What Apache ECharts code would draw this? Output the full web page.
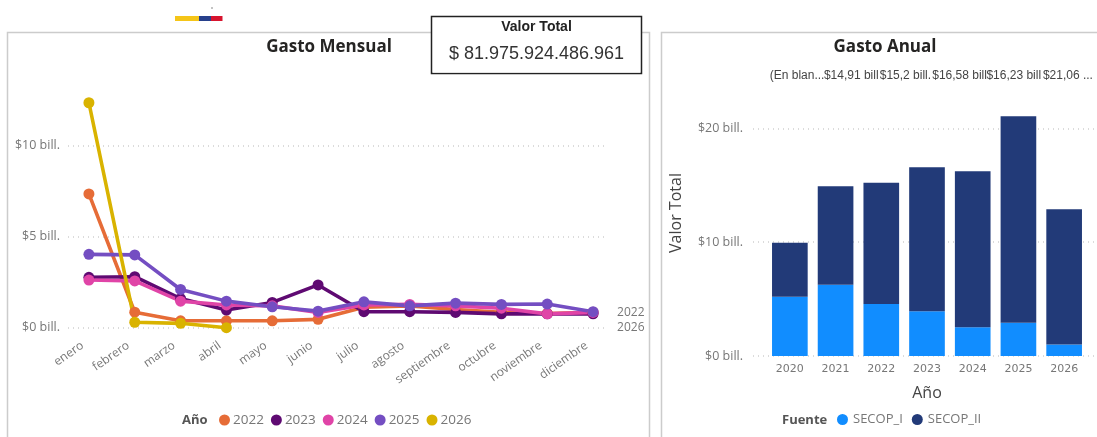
<!DOCTYPE html>
<html>
<head>
<meta charset="utf-8">
<style>html,body{margin:0;padding:0;background:#fff}#c{width:1097px;height:437px}</style>
<script src="https://cdn.jsdelivr.net/npm/echarts@6/dist/echarts.min.js"></script>
</head>
<body>
<div id="c"></div>
<script>
const months = ['enero','febrero','marzo','abril','mayo','junio','julio','agosto','septiembre','octubre','noviembre','diciembre'];
const v2022 = [7.35,0.85,0.38,0.38,0.38,0.46,1.12,1.2,1.0,0.85,0.78,0.85];
const v2023 = [2.77,2.8,1.6,0.97,1.39,2.35,0.88,0.88,0.84,0.76,0.76,0.76];
const v2024 = [2.62,2.57,1.46,1.25,1.2,0.84,1.25,1.28,1.2,1.07,0.76,0.84];
const v2025 = [4.03,4.0,2.1,1.46,1.15,0.91,1.42,1.2,1.35,1.28,1.3,0.88];
const v2026 = [12.36,0.3,0.24,0.0];
const years = ['2020','2021','2022','2023','2024','2025','2026'];
const secopI = [5.2,6.26,4.57,3.92,2.52,2.92,1.02];
const secopII = [4.75,8.65,10.63,12.66,13.71,18.14,11.86];
const topLabels = ['(En blan...','$14,91 bill','$15,2 bill.','$16,58 bill','$16,23 bill','$21,06 ...'];
const lineColors = {2022:'#E66C37',2023:'#5F0A72',2024:'#E044A7',2025:'#744EC2',2026:'#D9B300'};
const GRAY='#777';
const SANS='"Open Sans"';

function lineSeries(name,data,extra){
  return Object.assign({name:String(name),type:'line',xAxisIndex:1,yAxisIndex:1,data:data,
    symbol:'circle',symbolSize:11,showSymbol:true,
    lineStyle:{width:3.6,color:lineColors[name]},itemStyle:{color:lineColors[name]}},extra||{});
}
function endLabel(text,month,val){
  return {symbol:'circle',symbolSize:0,silent:true,
    data:[{coord:[month,val],value:text}],
    label:{show:true,position:'right',distance:24,formatter:text,color:GRAY,fontFamily:SANS,fontSize:12}};
}
const hiddenVal=(g,max)=>({type:'value',gridIndex:g,min:0,max:max,show:false});
const hiddenCat=(g,d)=>({type:'category',gridIndex:g,data:d,show:false});
const dots={type:[1,4],color:'#cfcfcf',width:1.5};

const option={
  animation:false,
  backgroundColor:'#fff',
  title:[
    {text:'Gasto Mensual',left:324,top:34,textAlign:'center',textStyle:{fontFamily:SANS,fontSize:17,fontWeight:700,color:'#252423'}},
    {text:'Gasto Anual',left:880,top:34,textAlign:'center',textStyle:{fontFamily:SANS,fontSize:17,fontWeight:700,color:'#252423'}}
  ],
  legend:[
    {left:214,top:408,itemWidth:11,itemHeight:11,itemGap:7,icon:'circle',
     data:['2022','2023','2024','2025','2026'],
     textStyle:{fontFamily:SANS,fontSize:13.5,color:GRAY,padding:[0,0,0,-2]}},
    {left:832,top:408,itemWidth:11,itemHeight:11,itemGap:9,icon:'circle',
     data:['SECOP_I','SECOP_II'],
     textStyle:{fontFamily:SANS,fontSize:13,color:GRAY,padding:[0,0,0,0]}}
  ],
  grid:[
    {left:68,width:540,top:145.7,height:182},   // left gridlines
    {left:66,width:550,top:54.7,height:273},    // left lines
    {left:753,width:344,top:128.3,height:227.7},// right gridlines
    {left:767,width:320,top:14.3,height:341.7}, // bars
    {left:770,width:325,top:83,height:10}       // row of top labels
  ],
  xAxis:[
    hiddenCat(0,months),
    {type:'category',gridIndex:1,data:months,axisLine:{show:false},axisTick:{show:false},
     axisLabel:{interval:0,rotate:35,color:GRAY,fontFamily:SANS,fontSize:12,margin:12,padding:[0,8,0,0]}},
    hiddenCat(2,years),
    {type:'category',gridIndex:3,data:years,axisLine:{show:false},axisTick:{show:false},
     name:'Año',nameLocation:'middle',nameGap:29,nameTextStyle:{fontFamily:SANS,fontSize:16,color:'#444'},
     axisLabel:{interval:0,color:GRAY,fontFamily:'"DejaVu Sans"',fontSize:11,margin:8}},
    {type:'category',gridIndex:4,position:'top',data:topLabels,axisLine:{show:false},axisTick:{show:false},
     axisLabel:{interval:0,color:'#444',fontFamily:'"Liberation Sans"',fontSize:12,margin:1}}
  ],
  yAxis:[
    {type:'value',gridIndex:0,min:0,max:10,interval:5,axisLine:{show:false},axisTick:{show:false},
     splitLine:{lineStyle:dots},
     axisLabel:{formatter:v=>'$'+v+' bill.',color:GRAY,fontFamily:SANS,fontSize:12.5,margin:8}},
    hiddenVal(1,15),
    {type:'value',gridIndex:2,min:0,max:20,interval:10,axisLine:{show:false},axisTick:{show:false},
     splitLine:{lineStyle:dots},
     axisLabel:{formatter:v=>'$'+v+' bill.',color:GRAY,fontFamily:SANS,fontSize:12.5,margin:10}},
    hiddenVal(3,30),
    hiddenVal(4,1)
  ],
  series:[
    lineSeries(2022,v2022,{markPoint:endLabel('2022','diciembre',v2022[11])}),
    lineSeries(2023,v2023),
    lineSeries(2024,v2024),
    lineSeries(2025,v2025),
    lineSeries(2026,v2026,{markPoint:endLabel('2026','diciembre',0)}),
    {name:'SECOP_I',type:'bar',stack:'t',xAxisIndex:3,yAxisIndex:3,data:secopI,barWidth:'78%',itemStyle:{color:'#118DFF'}},
    {name:'SECOP_II',type:'bar',stack:'t',xAxisIndex:3,yAxisIndex:3,data:secopII,barWidth:'78%',itemStyle:{color:'#223A78'}}
  ],
  graphic:[
    {type:'rect',z:-1,shape:{x:7.5,y:32.5,width:642,height:420},style:{fill:'#fff',stroke:'#cccccc',lineWidth:1.5}},
    {type:'rect',z:-1,shape:{x:661.5,y:32.5,width:450,height:420},style:{fill:'#fff',stroke:'#cccccc',lineWidth:1.5}},
    {type:'rect',z:50,shape:{x:175,y:16,width:24,height:5},style:{fill:'#F5C518'}},
    {type:'rect',z:50,shape:{x:199,y:16,width:12,height:5},style:{fill:'#27408B'}},
    {type:'rect',z:50,shape:{x:211,y:16,width:11.5,height:5},style:{fill:'#D7142E'}},
    {type:'rect',z:50,shape:{x:211,y:7.5,width:2,height:1},style:{fill:'#888'}},
    {type:'rect',z:100,shape:{x:431.5,y:16.5,width:210,height:57},style:{fill:'#fff',stroke:'#222',lineWidth:1.5}},
    {type:'text',z:101,style:{x:536.5,y:20,text:'Valor Total',textAlign:'center',fill:'#222',font:'bold 14px "Liberation Sans"'}},
    {type:'text',z:101,style:{x:536.5,y:45,text:'$ 81.975.924.486.961',textAlign:'center',fill:'#333',font:'18px "Liberation Sans"'}},
    {type:'rect',z:102,shape:{x:433,y:60.5,width:207,height:12},style:{fill:'#fff'}},
    {type:'text',z:60,style:{x:182,y:414,text:'Año',fill:'#555',font:'bold 13px "Open Sans"'}},
    {type:'text',z:60,style:{x:782,y:414,text:'Fuente',fill:'#555',font:'bold 13px "Open Sans"'}},
    {type:'text',z:60,rotation:Math.PI/2,x:676,y:213,style:{x:0,y:0,text:'Valor Total',textAlign:'center',textVerticalAlign:'middle',fill:'#444',font:'16px "Open Sans"'}}
  ]
};
const chart=echarts.init(document.getElementById('c'),null,{renderer:'canvas'});
chart.setOption(option);
</script>
</body>
</html>
